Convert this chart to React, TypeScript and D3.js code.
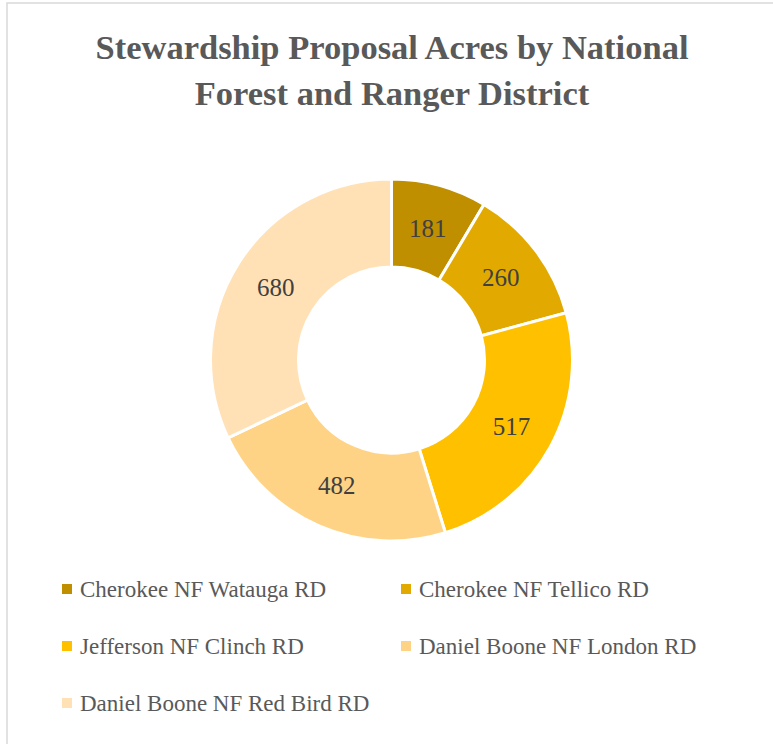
import * as d3 from 'd3';
import React from 'react';

const categories = [
    'Cherokee NF Watauga RD',
    'Cherokee NF Tellico RD',
    'Jefferson NF Clinch RD',
    'Daniel Boone NF London RD',
    'Daniel Boone NF Red Bird RD',
];
const acres = [181, 260, 517, 482, 680];
const colors = ['#BF8F00', '#E2AA00', '#FFC000', '#FFD386', '#FFE1B5'];
const titleLines = ['Stewardship Proposal Acres by National', 'Forest and Ranger District'];

const width = 773;
const height = 744;
const font = '"Liberation Serif", "DejaVu Serif", serif';

const App = (): React.ReactElement => {
    const cx = 391.5;
    const cy = 360;
    const outerR = 181;
    const innerR = 93;

    const pie = d3
        .pie<number>()
        .sort(null)
        .value((d) => d);
    const arcs = pie(acres);
    const arc = d3.arc<d3.PieArcDatum<number>>().innerRadius(innerR).outerRadius(outerR);
    const labelArc = d3
        .arc<d3.PieArcDatum<number>>()
        .innerRadius((innerR + outerR) / 2)
        .outerRadius((innerR + outerR) / 2);

    // legend layout: two columns
    const legendX = [62, 401];
    const legendY = 589;
    const rowH = 57;

    return (
        <svg
            width={width}
            height={height}
            style={{ position: 'absolute', left: 0, top: 0, background: '#fff' }}
        >
            <rect x={7} y={3} width={width + 10} height={height + 10} fill="#fff" stroke="#d9d9d9" strokeWidth={1.5} />
            {titleLines.map((t, i) => (
                <text
                    key={t}
                    x={392}
                    y={59 + i * 46}
                    textAnchor="middle"
                    fontFamily={font}
                    fontSize={34.5}
                    fontWeight="bold"
                    fill="#595959"
                >
                    {t}
                </text>
            ))}
            <g transform={`translate(${cx},${cy})`}>
                {arcs.map((a, i) => (
                    <path key={i} d={arc(a) as string} fill={colors[i]} stroke="#fff" strokeWidth={3} />
                ))}
                {arcs.map((a, i) => {
                    const [x, y] = labelArc.centroid(a);
                    return (
                        <text
                            key={'l' + i}
                            x={x}
                            y={y}
                            dy="0.35em"
                            textAnchor="middle"
                            fontFamily={font}
                            fontSize={25}
                            fill="#404040"
                        >
                            {acres[i]}
                        </text>
                    );
                })}
            </g>
            {categories.map((c, i) => {
                const col = i % 2;
                const row = Math.floor(i / 2);
                const x = legendX[col];
                const y = legendY + row * rowH;
                return (
                    <g key={c}>
                        <rect x={x} y={y - 5} width={10} height={10} fill={colors[i]} />
                        <text
                            x={x + 18}
                            y={y}
                            dy="0.35em"
                            fontFamily={font}
                            fontSize={23}
                            fill="#595959"
                        >
                            {c}
                        </text>
                    </g>
                );
            })}
        </svg>
    );
};

export default App;
